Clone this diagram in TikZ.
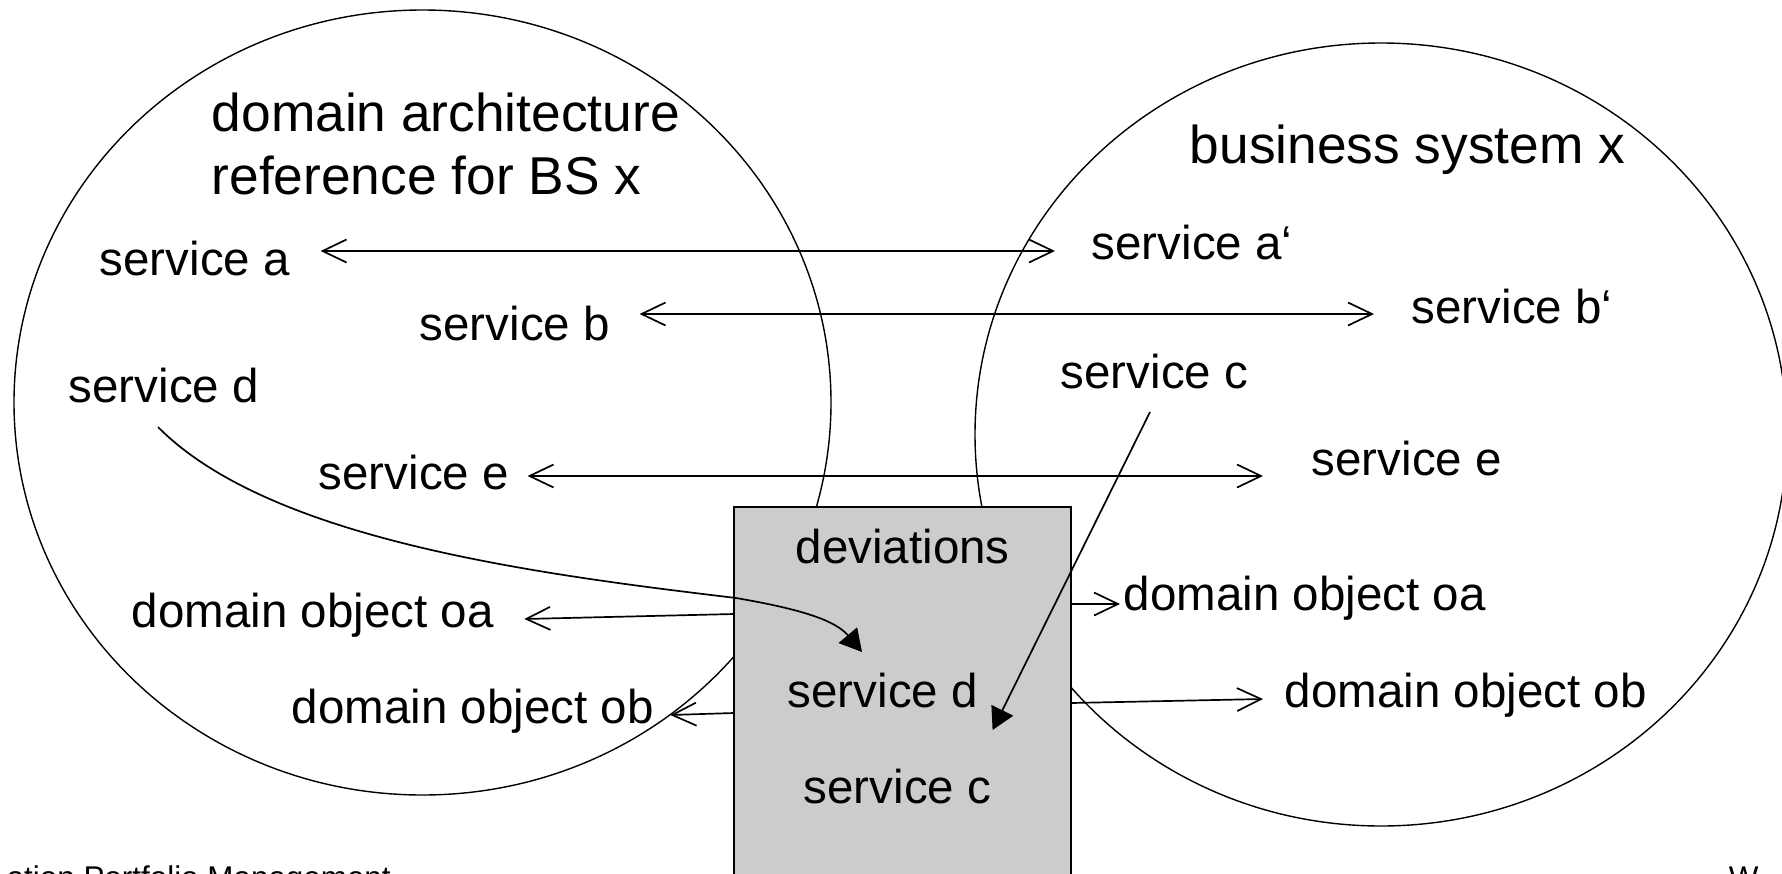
\documentclass[tikz,border=0pt]{standalone}
\usepackage{fontspec}
\setmainfont{Liberation Sans}
\usetikzlibrary{arrows.meta}
\definecolor{boxgray}{HTML}{CCCCCC}
\begin{document}
\begin{tikzpicture}[x=1pt,y=-1pt, line width=1.5pt,
  txt/.style={inner sep=0pt, anchor=base west, font=\fontsize{47.5}{57}\selectfont},
  ttl/.style={inner sep=0pt, anchor=base west, font=\fontsize{53.3}{64}\selectfont},
  foot/.style={inner sep=0pt, anchor=base west, font=\fontsize{31.4}{38}\selectfont},
  conn/.style={line width=1.7pt},
  barb/.style={conn, -{Straight Barb[length=24pt,width=23pt]}},
  dbarb/.style={conn, {Straight Barb[length=24pt,width=23pt]}-{Straight Barb[length=24pt,width=23pt]}},
  solidtip/.style={conn, -{Triangle[length=22pt,width=24pt]}}]
\useasboundingbox (0,0) rectangle (1782,873);
% the two areas
\draw[line width=1.4pt] (422.5,402.5) ellipse [x radius=408.5pt, y radius=392.5pt];
\draw[line width=1.4pt] (1381,434.5) ellipse [x radius=406pt, y radius=391.5pt];
% deviations box
\node[draw, fill=boxgray, line width=1.8pt, minimum width=337pt, minimum height=420pt,
      anchor=north west, inner sep=0pt, outer sep=0pt] (dev) at (734,507) {};
% titles
\node[ttl] (t1) at (211,131) {domain architecture};
\node[ttl] (t2) at (211,194) {reference for BS x};
\node[ttl] (bsx) at (1189,163) {business system x};
% left texts
\node[txt] (sa) at (99,275) {service a};
\node[txt] (sb) at (419,340) {service b};
\node[txt] (sdl) at (68,402) {service d};
\node[txt] (sel) at (318,489) {service e};
\node[txt] (oal) at (131,627) {domain object oa};
\node[txt] (obl) at (291,723) {domain object ob};
% right texts
\node[txt] (sa2) at (1091,259) {service a‘};
\node[txt] (sb2) at (1411,323) {service b‘};
\node[txt] (scr) at (1060,388) {service c};
\node[txt] (ser) at (1311,475) {service e};
\node[txt] (oar) at (1123,610) {domain object oa};
\node[txt] (obr) at (1284,707) {domain object ob};
% box texts
\node[txt] (devt) at (795,563) {deviations};
\node[txt] (sdb) at (787,707) {service d};
\node[txt] (scb) at (803,803) {service c};
% footer (cut off)
\node[foot] (f1) at (6,888) {ation Portfolio Management};
\node[foot] (f2) at (1728,888) {W};
% connectors
\draw[dbarb] ([shift={(30,-24)}]sa.base east) -- ([shift={(-36,-8)}]sa2.base west);
\draw[dbarb] ([shift={(29,-26)}]sb.base east) -- ([shift={(-37,-9)}]sb2.base west);
\draw[dbarb] ([shift={(18,-13)}]sel.base east) -- ([shift={(-48,1)}]ser.base west);
\draw[barb] ([shift={(0,107)}]dev.north west) -- ([shift={(30,-8)}]oal.base east);
\draw[barb] ([shift={(0,206)}]dev.north west) -- ([shift={(16,-8)}]obl.base east);
\draw[barb] ([shift={(0,97)}]dev.north east) -- ([shift={(-3,-6)}]oar.base west);
\draw[barb] ([shift={(0,196)}]dev.north east) -- ([shift={(-21,-8)}]obr.base west);
\draw[solidtip] ([shift={(90,24)}]scr.base west) -- ([shift={(14,23)}]sdb.base east);
\draw[solidtip] ([shift={(90,25)}]sdl.base west) .. controls (270,540) and (536,574) .. (736,598)
   .. controls (800,609) and (835,620) .. ([shift={(75,-55)}]sdb.base west);
\end{tikzpicture}
\end{document}
